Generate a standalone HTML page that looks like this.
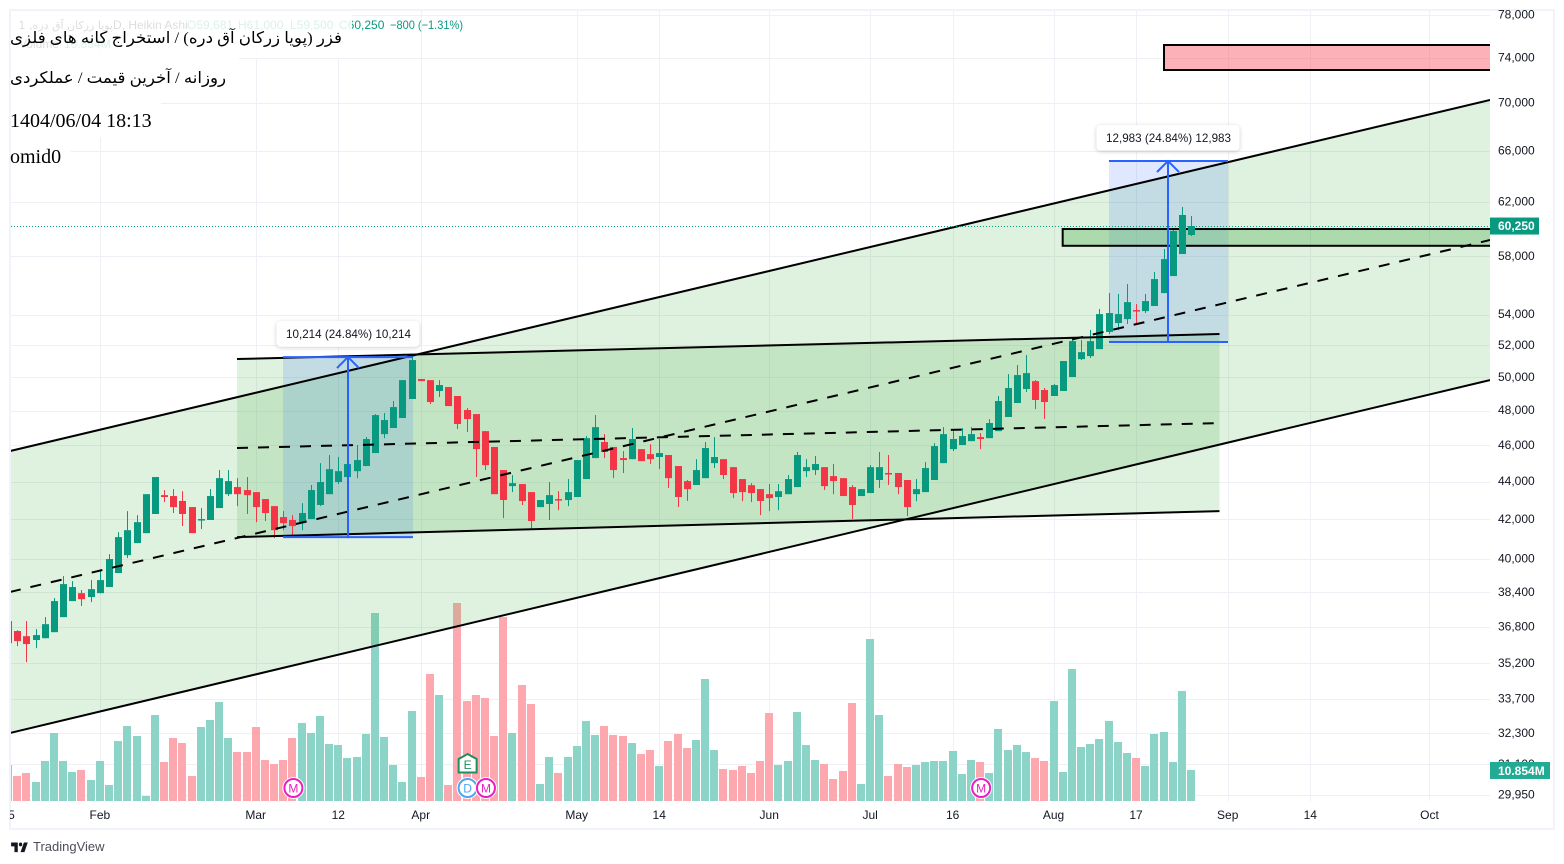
<!DOCTYPE html>
<html lang="en">
<head>
<meta charset="utf-8">
<title>Heikin Ashi chart</title>
<style>
html,body{margin:0;padding:0;background:#fff;width:1564px;height:864px;overflow:hidden}
svg{display:block;font-family:"Liberation Sans","DejaVu Sans",sans-serif}
</style>
</head>
<body>
<svg id="chart" xmlns="http://www.w3.org/2000/svg" width="1564" height="864" viewBox="0 0 1564 864">
<defs>
<clipPath id="plot-clip"><rect x="11" y="11" width="1479" height="790"/></clipPath>
<clipPath id="time-clip"><rect x="10" y="801" width="1480" height="28"/></clipPath>
<filter id="soft-shadow" x="-10%" y="-30%" width="120%" height="170%"><feDropShadow dx="0" dy="1" stdDeviation="2" flood-color="#000" flood-opacity="0.2"/></filter>
</defs>
<rect x="10" y="10" width="1544" height="819" fill="#fff" stroke="#f0f3fa" stroke-width="2"/>
<g id="grid"></g>
<g id="plot" clip-path="url(#plot-clip)"></g>
<g id="overlays"></g>
<g id="axes"></g>
<g>
<svg x="10" y="840" width="20" height="14" viewBox="0 2 36 22" preserveAspectRatio="none"><path fill="#131722" d="M14 6H2v6h6v9h6V6Zm12 15h-7l6-15h7l-6 15Zm-7-9a3 3 0 1 0 0-6 3 3 0 0 0 0 6Z"/></svg>
<text x="33" y="851" font-size="13" fill="#4a4e59">TradingView</text>
</g>
</svg>
<script>
const opens = [
36040,36580,36350,36180,36260,36530,37210,37950,38320,38140,
38320,38610,39280,40150,40750,41250,42230,43220,43170,42910,
42590,41920,41920,42540,43270,43650,43490,43380,43010,42640,
42070,41920,41760,41970,42700,43270,43920,44190,44510,44790,
45510,46580,46930,47510,48630,49840,49770,49110,49350,48810,
47980,47740,46750,45850,44570,43700,43810,43380,42590,42750,
43010,42960,43120,44080,45230,46130,45850,45230,45170,45730,
45450,45290,45400,44790,43970,43760,44130,44950,45170,44730,
44080,43750,43540,43270,43120,43270,43650,44510,44570,44730,
44240,44130,43650,43170,43330,44030,44410,44410,44030,43270,
43380,44030,44950,45730,45960,46180,46410,46350,46750,47570,
48390,49230,49710,49170,48810,49110,49960,51070,51260,51700,
52800,53380,53640,54240,54170,54510,55380,56550,58100,59470];
const highs = [
37030,36620,37030,36670,37210,38090,39130,38890,38470,38940,
39370,40200,41300,42380,42170,43270,44190,43490,43540,43430,
42590,42540,43540,44570,44570,44130,44190,43380,43010,42640,
42380,42170,42800,43760,44950,45400,45290,45290,45960,46410,
47740,47800,48510,49770,51330,49840,49770,49770,49350,48810,
48090,47740,46750,45850,44570,44300,43810,43380,42960,43920,
43430,44080,45120,46470,47680,46580,45850,45620,46930,45730,
46010,46300,45400,44790,44030,45170,46130,46410,45170,44730,
44080,43860,43540,43810,43810,44300,45570,45170,45340,44730,
44900,44130,43760,43540,44840,45570,45400,44410,44030,44080,
45010,46070,46980,46750,46930,46980,46640,47450,48810,50140,
50700,51330,49770,49290,49530,50950,52470,52280,52930,54310,
55380,55320,56000,54640,55320,56830,58460,59840,61550,60870];
const lows = [
36040,35910,35210,35820,36260,36530,37210,37950,37720,37900,
38320,38610,39280,40010,40750,41250,42230,42850,42280,41610,
41250,41460,41920,42540,43170,42640,42230,41810,41870,41000,
41400,41150,41400,41970,42640,43270,43810,44190,44130,44790,
45510,46350,46930,47510,48630,49710,48330,48750,48210,46870,
46700,44190,44570,43270,42020,43380,42700,41460,42590,41920,
42430,42640,43120,44080,45230,45230,44130,44410,45170,45060,
44900,44620,43600,42590,42910,43760,44130,44680,44080,43060,
42900,42850,42170,42380,42430,43270,43650,44190,44300,43490,
43270,43170,41970,43170,43330,43600,43760,43270,42120,42900,
43380,44030,44950,45620,45960,46180,45730,46350,46750,47570,
48390,49050,48030,47450,48810,49110,49960,51010,51140,51700,
52670,52920,53320,53320,54040,54510,55380,56550,58100,59400];
const closes = [
37030,36130,36000,36400,36890,37950,38750,38610,38040,38510,
38940,39960,41050,41400,41810,43270,44190,43120,42590,42230,
41250,41970,43170,44130,43970,43270,43220,42590,42280,41400,
41760,41610,42280,43490,43920,44620,44510,44900,45120,46300,
47680,47390,48150,49770,51010,49710,48450,49470,48210,47160,
47450,45730,44840,43270,42960,43860,42910,41870,42960,43220,
42960,43380,45120,46350,46980,45570,44570,45120,46300,45060,
45170,45510,44130,43120,43540,44570,45790,45290,44300,43330,
43380,43330,42910,43060,43430,44080,45400,44730,44900,43700,
43970,43170,42700,43540,44730,44730,44350,43650,42590,43540,
44680,45900,46580,46300,46470,46580,46300,47220,48510,49290,
50080,50200,48570,48450,49470,50950,52210,51510,52210,53970,
54040,53970,54770,54170,54840,56340,57740,59760,60950,60130];
const volumesM = [
12.6,8.75,9.8,6.65,14,23.8,14,10.15,10.85,7.35,
14,5.6,21,26.25,22.75,1.75,30.1,13.65,22.05,20.3,
8.75,25.9,28.35,34.65,22.05,17.15,17.15,25.9,14.35,12.95,
14.35,22.05,27.3,23.8,29.75,19.95,19.6,15.05,15.4,23.45,
65.8,22.4,12.6,6.65,31.5,8.4,44.45,37.1,5.6,69.3,
35,37.1,36.05,22.75,64.4,23.8,40.6,33.95,5.95,15.4,
9.8,15.4,19.25,28,23.1,26.25,23.1,22.75,20.3,16.45,
17.85,12.25,21,23.45,18.55,21.35,42.7,17.85,11.2,10.85,
12.25,9.8,14,30.8,12.6,14,31.15,19.6,14.35,12.95,
7.7,10.5,34.3,5.95,56.7,30.1,8.75,12.95,11.9,12.6,
13.65,14,14,17.5,9.45,14.35,13.65,9.8,25.2,17.85,
19.6,17.15,15.05,14,35,10.15,46.2,18.9,19.95,21.7,
28,20.65,16.8,15.05,12.25,23.45,24.15,13.65,38.5,10.854];
const priceTicks = [78000,74000,70000,66000,62000,58000,54000,52000,50000,48000,46000,44000,42000,40000,38400,36800,35200,33700,32300,31100,29950];
const timeTickBars = [0,10,27,36,45,62,71,83,94,103,114,123,133,142,155];
const timeTickLabels = ["25","Feb","Mar","12","Apr","May","14","Jun","Jul","16","Aug","17","Sep","14","Oct"];
const lastPriceLabel = "60,250";
const eventBars = [31,50,50,52,106];
const eventTypes = ["M","D","E","M","M"];
const channelBars = [0.2,161.6];
const channelUpper = [45620,70190];
const channelMiddle = [38376,59106];
const channelLower = [32279,49774];
const rangeBars = [24.96,132.1];
const rangeUpper = [51074,52667];
const rangeMiddle = [45790,47216];
const rangeLower = [41051,42382];
const positionBarsA = [29.98,44.15];
const positionPricesA = [41051,51199];
const positionLabelA = "10,214 (24.84%) 10,214";
const positionBarsB = [120.05,133.03];
const positionPricesB = [52151,65125];
const positionLabelB = "12,983 (24.84%) 12,983";
const supplyZoneBar = 126.05;
const supplyZonePrices = [72820,75089];
const demandZoneBar = 115;
const demandZonePrices = [58690,59910];

const NS = "http://www.w3.org/2000/svg";
const barStep = 9.17, barOrigin = 8.13;
const xOf = i => barOrigin + barStep * i;
const yOf = p => 14 + Math.log(78000 / p) * 814.9;
const volumeBase = 801, pxPerM = 1 / 0.35;
const volHeight = v => v * pxPerM;
const plotRight = 1490;
const plot = document.getElementById("plot");
const grid = document.getElementById("grid");
const axes = document.getElementById("axes");
const overlays = document.getElementById("overlays");
function make(tag, parent, attrs, txt) {
  const e = document.createElementNS(NS, tag);
  for (const k in attrs) e.setAttribute(k, attrs[k]);
  if (txt !== undefined) e.textContent = txt;
  parent.appendChild(e);
  return e;
}

/* grid */
priceTicks.forEach(t => {
  const gy = Math.round(yOf(t) + 1) + 0.5;
  const el = make("line", grid, {x1: 11, x2: plotRight, y1: gy, y2: gy, stroke: "#eef0f5", "stroke-width": 1});
  
  
});
timeTickBars.forEach(b => {
  if (b === 0) return;
  const x = Math.round(xOf(b)) + 0.5;
  const el = make("line", grid, {x1: x, x2: x, y1: 11, y2: 801, stroke: "#eef0f5", "stroke-width": 1});
  
  
});

/* volume */
volumesM.forEach((v, i) => {
  const up = closes[i] >= opens[i];
  const h = volHeight(v);
  const el = make("rect", plot, {x: Math.round(xOf(i)) - 4, y: volumeBase - h, width: 8, height: h, fill: up ? "#8dd4c8" : "#fca8ae"});
  
  
});

/* fills */
function band(name, bars, up, low, fill) {
  const pts = [[bars[0], up[0]], [bars[1], up[1]], [bars[1], low[1]], [bars[0], low[0]]]
    .map(a => xOf(a[0]) + "," + yOf(a[1])).join(" ");
  const el = make("polygon", plot, {points: pts, fill: fill});
  
  
}
band("parallel-channel-fill", channelBars, channelUpper, channelLower, "rgba(76,175,80,0.18)");
band("range-channel-fill", rangeBars, rangeUpper, rangeLower, "rgba(76,175,80,0.18)");

function box(name, barA, barB, priceA, priceB, fill) {
  const y1 = yOf(priceA), y2 = yOf(priceB);
  const el = make("rect", plot, {x: xOf(barA), y: Math.min(y1, y2), width: xOf(barB) - xOf(barA), height: Math.abs(y2 - y1), fill: fill});
  
  
}
box("long-position-fill-march", positionBarsA[0], positionBarsA[1], positionPricesA[0], positionPricesA[1], "rgba(41,98,255,0.15)");
box("long-position-fill-august", positionBarsB[0], positionBarsB[1], positionPricesB[0], positionPricesB[1], "rgba(41,98,255,0.15)");

/* zones */
function zone(name, bar, prices, fill) {
  const y1 = yOf(prices[1]), y2 = yOf(prices[0]);
  const el = make("rect", plot, {x: xOf(bar), y: y1, width: plotRight + 10 - xOf(bar), height: y2 - y1, fill: fill, stroke: "#000", "stroke-width": 2});
  
  
}
zone("supply-zone", supplyZoneBar, supplyZonePrices, "rgba(247,82,95,0.45)");
zone("demand-zone", demandZoneBar, demandZonePrices, "rgba(76,175,80,0.35)");

/* candles */
closes.forEach((c, i) => {
  const up = c >= opens[i];
  const col = up ? "#089981" : "#f23645";
  const cx = Math.round(xOf(i));
  const wick = make("rect", plot, {x: cx, y: yOf(highs[i]), width: 1, height: Math.max(1, yOf(lows[i]) - yOf(highs[i])), fill: col});
  
  
  const top = yOf(Math.max(c, opens[i])), bot = yOf(Math.min(c, opens[i]));
  const body = make("rect", plot, {x: cx - 3, y: top, width: 7, height: Math.max(1.5, bot - top), fill: col});
  
  
});

/* trend lines */
function trend(name, bars, prices, dashed) {
  const attrs = {x1: xOf(bars[0]), y1: yOf(prices[0]), x2: xOf(bars[1]), y2: yOf(prices[1]), stroke: "#000", "stroke-width": 2};
  if (dashed) attrs["stroke-dasharray"] = "11 10";
  const el = make("line", plot, attrs);
  
  
}
trend("channel-upper-line", channelBars, channelUpper, false);
trend("channel-middle-line", channelBars, channelMiddle, true);
trend("channel-lower-line", channelBars, channelLower, false);
trend("range-upper-line", rangeBars, rangeUpper, false);
trend("range-middle-line", rangeBars, rangeMiddle, true);
trend("range-lower-line", rangeBars, rangeLower, false);

/* last price line */
const lastY = yOf(closes[closes.length - 1]);
const priceLine = make("line", plot, {x1: 11, x2: plotRight, y1: lastY + 0.5, y2: lastY + 0.5, stroke: "#089981", "stroke-width": 1, "stroke-dasharray": "1 2"});



/* long position tools */
function position(key, bars, prices, label) {
  const xa = xOf(bars[0]), xb = xOf(bars[1]), yb = yOf(prices[0]), yt = yOf(prices[1]);
  const xm = Math.floor((xa + xb) / 2);
  const color = "#2962ff";
  const g = make("g", plot, {});
  
  
  const topLine = make("line", g, {x1: xa, x2: xb, y1: yt, y2: yt, stroke: color, "stroke-width": 2});
  
  
  const bottomLine = make("line", g, {x1: xa, x2: xb, y1: yb, y2: yb, stroke: color, "stroke-width": 2});
  
  
  const shaft = make("line", g, {x1: xm, x2: xm, y1: yb + 1, y2: yt, stroke: color, "stroke-width": 2});
  
  
  const head = make("polyline", g, {points: (xm - 11) + "," + (yt + 11) + " " + xm + "," + yt + " " + (xm + 11) + "," + (yt + 11), fill: "none", stroke: color, "stroke-width": 2});
  
  
  const bw = 143, bh = 25.5, bx = xm - bw / 2, by = yt - 36;
  const bg = make("rect", g, {x: bx, y: by, width: bw, height: bh, rx: 4, fill: "#fff", filter: "url(#soft-shadow)"});
  
  
  const tx = make("text", g, {x: xm + 0.5, y: by + 17, "font-size": 12, fill: "#131722", "text-anchor": "middle", textLength: 125, lengthAdjust: "spacingAndGlyphs"}, label);
  
  
}
position("long-position-march", positionBarsA, positionPricesA, positionLabelA);
position("long-position-august", positionBarsB, positionPricesB, positionLabelB);

/* event markers */
eventBars.forEach((b, i) => {
  const type = eventTypes[i];
  const x = xOf(b) + 1;
  const g = make("g", plot, {});
  
  
  if (type === "E") {
    const y = 764;
    const house = make("polygon", g, {points: x + "," + (y - 10) + " " + (x + 9) + "," + (y - 5) + " " + (x + 9) + "," + (y + 8.5) + " " + (x - 9) + "," + (y + 8.5) + " " + (x - 9) + "," + (y - 5), fill: "#fff", stroke: "#1e8f5e", "stroke-width": 2});
    
    
    const t = make("text", g, {x: x, y: y + 5, "font-size": 12, "text-anchor": "middle", fill: "#1e8f5e"}, type);
    
    
  } else {
    const col = type === "M" ? "#e91fc1" : "#4ca6f5";
    const y = 788;
    const halo = make("circle", g, {cx: x, cy: y, r: 11, fill: "#fff"});
    
    
    const ring = make("circle", g, {cx: x, cy: y, r: 9, fill: "#fff", stroke: col, "stroke-width": 2});
    
    
    const t = make("text", g, {x: x, y: y + 4.5, "font-size": 12, "text-anchor": "middle", fill: col}, type);
    
    
  }
});

/* header + title overlay */
const hdr = make("text", overlays, {x: 113, y: 29, "font-size": 12, fill: "#131722"}, "D, Heikin Ashi");


const hdrSym = make("text", overlays, {x: 113, y: 29, "font-size": 11, fill: "#131722", direction: "rtl", "font-family": "\"DejaVu Sans\",sans-serif"}, "پویا زرکان آق دره, 1");


const ohlcO = make("text", overlays, {x: 187, y: 29, "font-size": 12, fill: "#089981"}, "O59,681");


const ohlcH = make("text", overlays, {x: 238, y: 29, "font-size": 12, fill: "#089981"}, "H61,000");


const ohlcL = make("text", overlays, {x: 290, y: 29, "font-size": 12, fill: "#089981"}, "L59,500");


const ohlcC = make("text", overlays, {x: 339, y: 29, "font-size": 12, fill: "#089981"}, "C60,250");


const chg = make("text", overlays, {x: 390, y: 29, "font-size": 12, fill: "#089981", textLength: 73, lengthAdjust: "spacingAndGlyphs"}, "−800 (−1.31%)");


const volLegend = make("text", overlays, {x: 19, y: 48, "font-size": 12, fill: "#131722"}, "Volume");


const volLegendVal = make("text", overlays, {x: 64, y: 48, "font-size": 12, fill: "#089981"}, "10.854M");



const veil1 = make("rect", overlays, {x: 11, y: 11, width: 341, height: 47, fill: "rgba(255,255,255,0.85)"});


const veil2 = make("rect", overlays, {x: 11, y: 58, width: 228, height: 40, fill: "rgba(255,255,255,0.9)"});


const veil3 = make("rect", overlays, {x: 11, y: 98, width: 150, height: 40, fill: "rgba(255,255,255,0.9)"});


const veil4 = make("rect", overlays, {x: 11, y: 138, width: 60, height: 36, fill: "rgba(255,255,255,0.9)"});



const arabicFont = "\"Liberation Serif\",\"DejaVu Sans\",serif";
const title1 = make("text", overlays, {x: 342, y: 43, "font-size": 16, fill: "#000", direction: "rtl", "font-family": arabicFont, textLength: 332, lengthAdjust: "spacingAndGlyphs"}, "فزر (پویا زرکان آق دره) / استخراج کانه های فلزی");


const title2 = make("text", overlays, {x: 226, y: 83, "font-size": 16, fill: "#000", direction: "rtl", "font-family": arabicFont, textLength: 216, lengthAdjust: "spacingAndGlyphs"}, "روزانه / آخرین قیمت / عملکردی");


const title3 = make("text", overlays, {x: 10, y: 127, "font-size": 20, fill: "#000", "font-family": "\"Liberation Serif\",serif"}, "1404/06/04 18:13");


const title4 = make("text", overlays, {x: 10, y: 163, "font-size": 20, fill: "#000", "font-family": "\"Liberation Serif\",serif"}, "omid0");



/* axes */
priceTicks.forEach(t => {
  const el = make("text", axes, {x: 1498, y: yOf(t) + 4.5, "font-size": 12, fill: "#131722"}, t.toLocaleString("en-US"));
  
  
});
const timeGroup = make("g", axes, {"clip-path": "url(#time-clip)"});


timeTickBars.forEach((b, i) => {
  const el = make("text", timeGroup, {x: xOf(b), y: 819, "font-size": 12, fill: "#131722", "text-anchor": "middle"}, timeTickLabels[i]);
  
  
});
const lastBox = make("rect", axes, {x: 1490, y: lastY - 8.5, width: 49, height: 17, fill: "#089981"});


const lastText = make("text", axes, {x: 1498, y: lastY + 4, "font-size": 12, "font-weight": "bold", fill: "#fff"}, lastPriceLabel);


const lastVol = volumesM[volumesM.length - 1];
const volY = volumeBase - volHeight(lastVol);
const volBox = make("rect", axes, {x: 1490, y: volY - 8, width: 60, height: 17, fill: "#22ab94"});


const volText = make("text", axes, {x: 1498, y: volY + 5, "font-size": 12, "font-weight": "bold", fill: "#fff"}, lastVol.toFixed(3) + "M");


</script>
</body>
</html>
